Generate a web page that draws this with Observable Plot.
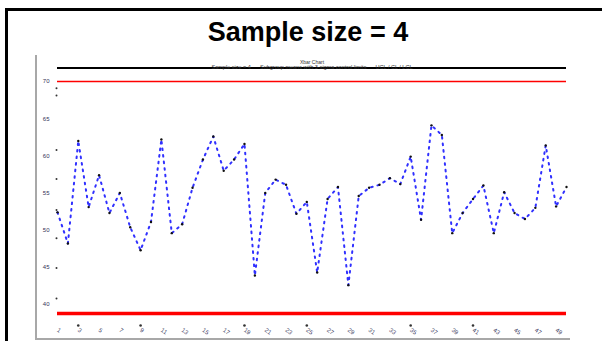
<!DOCTYPE html>
<html>
<head>
<meta charset="utf-8">
<script src="https://cdn.jsdelivr.net/npm/d3@7"></script>
<script src="https://cdn.jsdelivr.net/npm/@observablehq/plot@0.6"></script>
<style>
html,body{margin:0;padding:0;background:#fff;width:602px;height:341px;overflow:hidden;}
#slide{position:absolute;left:5px;top:8px;width:640px;height:380px;border-left:3px solid #000;border-top:3px solid #000;}
#title{position:absolute;left:0;top:17px;width:616px;text-align:center;font:bold 27px "Liberation Sans",Arial,sans-serif;color:#000;line-height:31px;}
#chart{position:absolute;left:35px;top:55px;width:533px;height:283px;border-left:2px solid #a8a8a8;border-bottom:2px solid #a8a8a8;}
#chart svg{display:block;}
</style>
</head>
<body>
<div id="slide"></div>
<div id="title">Sample size = 4</div>
<div id="chart"></div>
<script>
// Subgroup numbers
const sampleNo = [1,2,3,4,5,6,7,8,9,10,11,12,13,14,15,16,17,18,19,20,21,22,23,24,25,
                  26,27,28,29,30,31,32,33,34,35,36,37,38,39,40,41,42,43,44,45,46,47,48,49,50];
// Subgroup means
const means = [52.4,48.2,62.0,53.1,57.4,52.3,55.0,50.4,47.3,51.1,
               62.2,49.6,50.8,55.7,59.5,62.6,58.0,59.5,61.6,43.9,
               55.0,56.8,56.1,52.2,53.8,44.3,54.2,55.8,42.6,54.6,
               55.7,56.1,57.0,56.2,59.9,51.4,64.1,62.8,49.6,52.3,
               54.2,56.0,49.6,55.1,52.3,51.5,53.0,61.4,53.2,55.8];
const ucl = 70;
const lcl = 38.8;
const headerRule = 71.8;
const yTicks = [40,45,50,55,60,65,70];
const xTicks = [1,3,5,7,9,11,13,15,17,19,21,23,25,27,29,31,33,35,37,39,41,43,45,47,49];
const yAxisDots = [69.1,68.1,60.8,56.9,52.7,48.9,44.9,40.8];
const flagged = [3,9,19,25,35,41];
const chartTitle = "Xbar Chart";
const chartSubtitle = "Sample size = 4      Subgroup means with 3-sigma control limits      UCL / CL / LCL";

const data = sampleNo.map((s, i) => ({s, v: means[i]}));

const chart = Plot.plot({
  width: 533,
  height: 283,
  marginTop: 0,
  marginLeft: 20,
  marginRight: 4,
  marginBottom: 13,
  x: {domain: [1, 50], range: [20, 529]},
  y: {domain: [40, 70], range: [249, 26]},
  style: {fontFamily: "'Liberation Sans', Arial, sans-serif", overflow: "visible", background: "#fff"},
  marks: [
    Plot.ruleY([headerRule], {x1: 1, x2: 50, stroke: "#000", strokeWidth: 2}),
    Plot.ruleY([ucl], {x1: 1, x2: 50, stroke: "#ff0000", strokeWidth: 1.7}),
    Plot.ruleY([lcl], {x1: 1, x2: 50, stroke: "#ff0000", strokeWidth: 3.5}),
    Plot.line(data, {x: "s", y: "v", stroke: "#3030ff", strokeWidth: 2, strokeDasharray: "1.6 5"}),
    Plot.dot(data, {x: "s", y: "v", r: 1.2, fill: "#111", stroke: "none"}),
    Plot.dot(yAxisDots, {x: () => 1, y: d => d, dx: -1, r: 1, fill: "#333"}),
    Plot.dot(flagged, {x: d => d, frameAnchor: "bottom", r: 1.3, fill: "#333"}),
    Plot.axisY({ticks: yTicks, tickSize: 0, tickPadding: 8, fontSize: 6, fill: "#335", label: null}),
    Plot.axisX({ticks: xTicks, tickSize: 0, tickPadding: 4, fontSize: 6, tickRotate: 35, fill: "#446", label: null}),
    Plot.text([chartTitle], {text: d => d, frameAnchor: "top", dy: 5, fontSize: 5, fill: "#333"}),
    Plot.text([chartSubtitle], {text: d => d, frameAnchor: "top", dy: 10, fontSize: 5.5, fill: "#333"})
  ]
});
document.getElementById("chart").appendChild(chart);
</script>
</body>
</html>
